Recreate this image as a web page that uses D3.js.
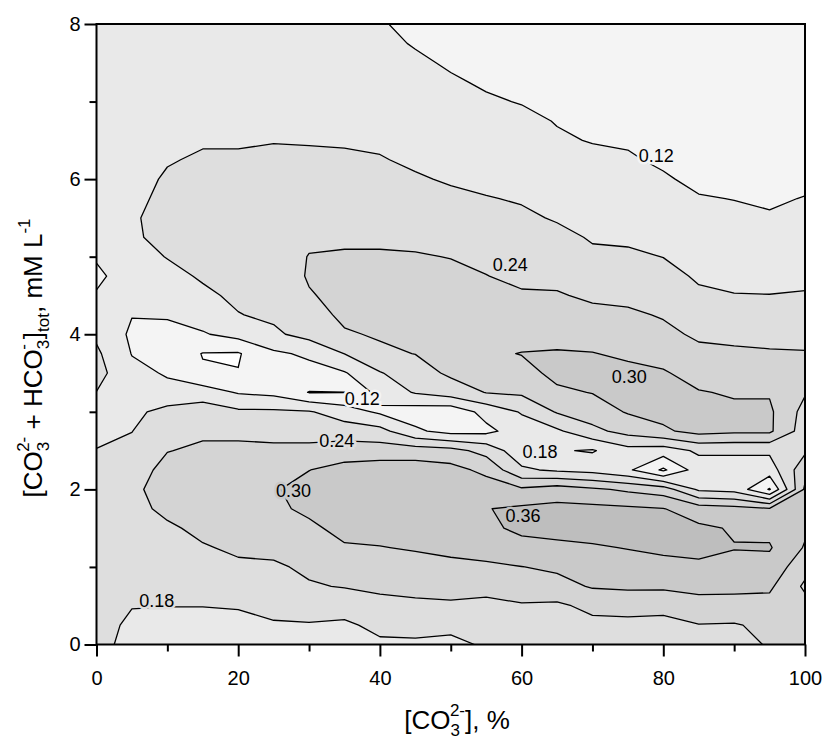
<!DOCTYPE html>
<html>
<head>
<meta charset="utf-8">
<script src="https://cdn.jsdelivr.net/npm/d3@7/dist/d3.min.js"></script>
<style>
html,body{margin:0;padding:0;background:#fff;}
svg text{font-family:"Liberation Sans",Arial,Helvetica,sans-serif;fill:#000;}
</style>
</head>
<body>
<svg id="chart" width="825" height="741"></svg>
<script>
// ---------------- data ----------------
const xGrid = [0,5,10,15,20,25,30,35,40,45,50,55,60,65,70,75,80,85,90,95,100];
const yGrid = [8,7.75,7.5,7.25,7,6.75,6.5,6.25,6,5.75,5.5,5.25,5,4.75,4.5,4.25,4,3.75,3.5,3.25,3,2.75,2.5,2.25,2,1.75,1.5,1.25,1,0.75,0.5,0.25,0];
const levels = [0.06,0.12,0.18,0.24,0.30,0.36];
const xTicks = [0,20,40,60,80,100];
const xMinorTicks = [10,30,50,70,90];
const yTicks = [0,2,4,6,8];
const yMinorTicks = [1,3,5,7];

// one column of values per x (top y=8 -> bottom y=0)
const z000 = [.15,.15,.15,.15,.15,.15,.15,.15,.15,.14,.14,.13,.125,.11,.124,.15,.17,.19,.20,.179,.16,.165,.182,.19,.20,.20,.20,.20,.20,.20,.20,.20,.20];
const z005 = [.15,.15,.15,.15,.15,.15,.155,.16,.165,.17,.175,.175,.16,.145,.135,.122,.11,.118,.135,.15,.165,.179,.195,.21,.225,.22,.21,.205,.20,.19,.182,.17,.16];
const z010 = [.15,.15,.15,.155,.16,.165,.17,.177,.185,.19,.195,.19,.182,.165,.145,.125,.105,.095,.115,.135,.20,.22,.238,.26,.27,.255,.23,.215,.205,.195,.181,.165,.155];
const z015 = [.15,.15,.155,.16,.165,.17,.176,.185,.195,.2,.205,.2,.195,.186,.17,.145,.115,.058,.065,.15,.21,.23,.25,.27,.28,.27,.255,.235,.22,.2,.181,.165,.155];
const z020 = [.15,.15,.155,.16,.165,.17,.176,.185,.195,.205,.21,.21,.205,.2,.19,.178,.14,.055,.062,.115,.19,.225,.255,.275,.285,.28,.265,.25,.23,.205,.185,.16,.15];
const z025 = [.15,.15,.155,.16,.165,.17,.178,.19,.2,.21,.215,.215,.21,.205,.195,.19,.17,.11,.085,.105,.19,.225,.25,.275,.295,.29,.275,.255,.232,.21,.195,.175,.16];
const z030 = [.15,.15,.155,.16,.165,.17,.177,.188,.2,.21,.22,.23,.242,.245,.236,.22,.2,.13,.1,.058,.185,.225,.25,.299,.32,.31,.29,.27,.25,.235,.21,.175,.16];
const z035 = [.15,.15,.155,.16,.165,.17,.176,.186,.2,.21,.22,.232,.245,.255,.255,.25,.235,.181,.115,.059,.15,.21,.27,.32,.34,.33,.315,.295,.27,.243,.205,.17,.16];
const z040 = [.125,.13,.14,.15,.16,.165,.172,.183,.195,.21,.22,.232,.245,.26,.27,.26,.245,.231,.176,.14,.11,.2,.27,.33,.345,.34,.32,.298,.275,.25,.225,.195,.17];
const z045 = [.105,.117,.127,.135,.145,.155,.165,.172,.185,.2,.21,.225,.245,.26,.275,.28,.26,.241,.215,.185,.09,.13,.27,.33,.35,.35,.33,.305,.28,.255,.23,.2,.17];
const z050 = [.095,.105,.115,.125,.135,.145,.155,.165,.175,.19,.205,.22,.238,.255,.27,.28,.28,.27,.25,.21,.08,.1,.26,.32,.35,.355,.34,.315,.285,.26,.232,.19,.17];
const z055 = [.085,.095,.105,.115,.125,.135,.145,.155,.165,.183,.2,.215,.23,.241,.26,.275,.285,.29,.275,.242,.14,.105,.22,.285,.33,.358,.35,.325,.29,.255,.228,.2,.185];
const z060 = [.075,.085,.095,.105,.118,.13,.14,.15,.16,.175,.19,.205,.215,.23,.245,.26,.275,.302,.28,.25,.185,.15,.14,.19,.31,.37,.37,.345,.299,.27,.235,.21,.2];
const z065 = [.07,.075,.085,.095,.105,.118,.125,.14,.15,.16,.175,.195,.21,.225,.245,.26,.28,.305,.315,.29,.245,.17,.125,.17,.33,.375,.375,.35,.31,.28,.23,.21,.205];
const z070 = [.07,.072,.075,.085,.095,.105,.118,.13,.14,.15,.16,.175,.19,.205,.23,.255,.275,.302,.32,.302,.27,.225,.115,.16,.31,.375,.38,.355,.33,.305,.255,.225,.21];
const z075 = [.072,.075,.078,.083,.09,.1,.115,.125,.135,.145,.155,.17,.19,.205,.225,.25,.27,.29,.315,.325,.305,.26,.16,.13,.29,.37,.385,.362,.34,.31,.26,.225,.21];
const z080 = [.07,.072,.075,.078,.083,.09,.1,.113,.125,.135,.15,.165,.179,.2,.215,.235,.255,.28,.305,.33,.32,.29,.15,.05,.27,.362,.38,.37,.345,.31,.255,.225,.21];
const z085 = [.07,.07,.072,.075,.08,.085,.092,.1,.11,.123,.135,.15,.16,.172,.19,.21,.23,.255,.28,.303,.315,.32,.19,.15,.17,.33,.37,.375,.35,.315,.28,.238,.22];
const z090 = [.07,.07,.07,.072,.075,.08,.087,.095,.105,.119,.13,.14,.155,.165,.182,.2,.225,.25,.27,.295,.31,.31,.19,.15,.16,.32,.355,.362,.345,.31,.285,.235,.22];
const z095 = [.07,.07,.07,.07,.072,.077,.083,.09,.1,.113,.125,.135,.15,.165,.181,.2,.225,.245,.27,.295,.31,.31,.19,.15,.055,.305,.345,.365,.34,.31,.28,.255,.245];
const z100 = [.07,.07,.07,.07,.075,.08,.087,.095,.107,.122,.13,.14,.15,.165,.185,.2,.225,.243,.255,.245,.22,.21,.23,.28,.31,.32,.31,.295,.26,.23,.26,.265,.265];
const zColumns = [z000,z005,z010,z015,z020,z025,z030,z035,z040,z045,z050,z055,z060,z065,z070,z075,z080,z085,z090,z095,z100];

// contour label annotations
const labelLevels = [0.12,0.24,0.30,0.12,0.18,0.24,0.30,0.36,0.18];
const labelX = [79,58.4,75.2,37.5,62.6,33.9,27.8,60.2,8.5];
const labelY = [6.31,4.9,3.45,3.17,2.49,2.63,1.99,1.66,0.57];

// ---------------- drawing ----------------
const bandColors = ["#ffffff","#f4f4f4","#e9e9e9","#dedede","#d4d4d4","#c9c9c9","#bebebe"];
const svg = d3.select("#chart");
const x = d3.scaleLinear().domain([0,100]).range([96.5,805]);
const y = d3.scaleLinear().domain([0,8]).range([644.5,24]);

const nx = xGrid.length, ny = yGrid.length;
const values = [];
for (let j = 0; j < ny; j++) for (let i = 0; i < nx; i++) values.push(zColumns[i][j]);

const polys = d3.contours().size([nx, ny]).thresholds(levels)(values);
const gxToData = d3.scaleLinear().domain([0.5, nx - 0.5]).range([xGrid[0], xGrid[nx - 1]]);
const gyToData = d3.scaleLinear().domain([0.5, ny - 0.5]).range([yGrid[0], yGrid[ny - 1]]);
const proj = d3.geoTransform({point(px, py){ this.stream.point(x(gxToData(px)), y(gyToData(py))); }});
const path = d3.geoPath(proj);

svg.append("defs").append("clipPath").attr("id","plotClip").append("rect")
  .attr("x", x(0)).attr("y", y(8)).attr("width", x(100)-x(0)).attr("height", y(0)-y(8));

const plot = svg.append("g").attr("clip-path","url(#plotClip)");
plot.append("rect").attr("x", x(0)).attr("y", y(8)).attr("width", x(100)-x(0)).attr("height", y(0)-y(8))
  .attr("fill", bandColors[0]);
plot.selectAll("path.band").data(polys).join("path")
  .attr("class","band")
  .attr("d", path)
  .attr("fill", (d,i) => bandColors[i+1])
  .attr("fill-rule","evenodd")
  .attr("stroke","#000").attr("stroke-width",1.3).attr("stroke-linejoin","round");

// sample grid value (bilinear) for label halo colour
function sample(X, Y){
  const gi = (X - xGrid[0]) / (xGrid[1]-xGrid[0]);
  const gj = (yGrid[0] - Y) / (yGrid[0]-yGrid[1]);
  const i0 = Math.max(0, Math.min(nx-2, Math.floor(gi))), j0 = Math.max(0, Math.min(ny-2, Math.floor(gj)));
  const fx = gi - i0, fy = gj - j0;
  const v = (i,j) => zColumns[i][j];
  return v(i0,j0)*(1-fx)*(1-fy) + v(i0+1,j0)*fx*(1-fy) + v(i0,j0+1)*(1-fx)*fy + v(i0+1,j0+1)*fx*fy;
}
labelLevels.forEach((lv, k) => {
  const s = sample(labelX[k], labelY[k]);
  const band = levels.filter(l => s >= l).length;
  plot.append("text")
    .attr("x", x(labelX[k])).attr("y", y(labelY[k]))
    .attr("text-anchor","middle").attr("dy","0.36em")
    .attr("font-size", 18)
    .attr("stroke", bandColors[band]).attr("stroke-width", 5).attr("paint-order","stroke")
    .style("fill","#000")
    .text(d3.format(".2f")(lv));
});

// frame
svg.append("rect").attr("x", x(0)).attr("y", y(8)).attr("width", x(100)-x(0)).attr("height", y(0)-y(8))
  .attr("fill","none").attr("stroke","#000").attr("stroke-width",2);

// axes
function styleAxis(g){
  g.select(".domain").remove();
  g.selectAll(".tick line").attr("stroke","#000").attr("stroke-width",2);
  g.selectAll(".tick text").attr("font-size",20).attr("font-family",null).style("fill","#000");
  g.attr("font-family",null).attr("font-size",null);
}
svg.append("g").attr("transform",`translate(${x(0)},0)`)
  .call(d3.axisLeft(y).tickValues(yTicks).tickSize(12).tickPadding(4).tickFormat(d3.format("d"))).call(styleAxis);
svg.append("g").attr("transform",`translate(${x(0)},0)`)
  .call(d3.axisLeft(y).tickValues(yMinorTicks).tickSize(7).tickFormat("")).call(styleAxis);
svg.append("g").attr("transform",`translate(0,${y(0)})`)
  .call(d3.axisBottom(x).tickValues(xTicks).tickSize(12).tickPadding(14).tickFormat(d3.format("d"))).call(styleAxis);
svg.append("g").attr("transform",`translate(0,${y(0)})`)
  .call(d3.axisBottom(x).tickValues(xMinorTicks).tickSize(7).tickFormat("")).call(styleAxis);

// axis titles
const xt = svg.append("text").attr("x", 457).attr("y", 729).attr("text-anchor","middle").attr("font-size",26);
xt.append("tspan").text("[CO");
xt.append("tspan").attr("font-size",17).attr("dy",7).text("3");
xt.append("tspan").attr("font-size",17).attr("dx",-10).attr("dy",-20).text("2-");
xt.append("tspan").attr("dy",13).text("], %");

const yt = svg.append("text").attr("transform","translate(42,358) rotate(-90)").attr("text-anchor","middle").attr("font-size",26);
yt.append("tspan").text("[CO");
yt.append("tspan").attr("font-size",17).attr("dy",7).text("3");
yt.append("tspan").attr("font-size",17).attr("dx",-10).attr("dy",-20).text("2-");
yt.append("tspan").attr("dy",13).text(" + HCO");
yt.append("tspan").attr("font-size",17).attr("dy",7).text("3");
yt.append("tspan").attr("font-size",17).attr("dx",-10).attr("dy",-20).text("-");
yt.append("tspan").attr("dy",13).attr("dx",5).text("]");
yt.append("tspan").attr("font-size",17).attr("dy",7).text("tot");
yt.append("tspan").attr("dy",-7).text(", mM L");
yt.append("tspan").attr("font-size",17).attr("dy",-12).text("-1");
</script>
</body>
</html>
